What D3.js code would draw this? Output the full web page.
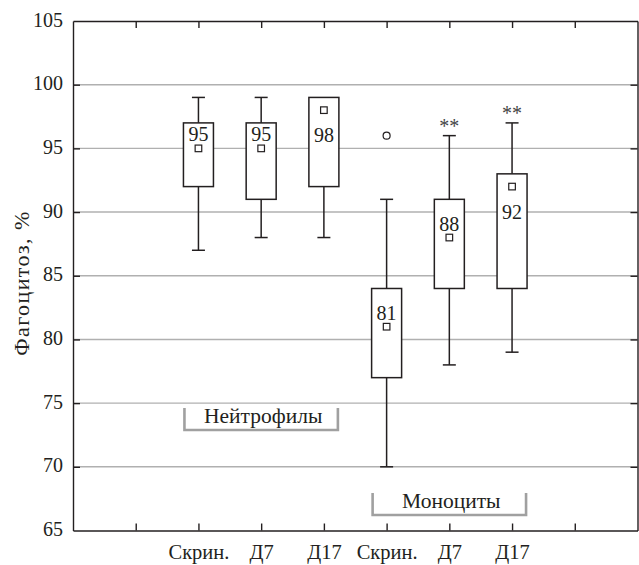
<!DOCTYPE html>
<html>
<head>
<meta charset="utf-8">
<script src="https://cdn.jsdelivr.net/npm/d3@7"></script>
<style>
  html, body { margin: 0; padding: 0; background: #fff; }
  svg { display: block; }
</style>
</head>
<body>
<div id="chart"></div>
<script>
// ---- data ----
const categories = ["Скрин.", "Д7", "Д17", "Скрин.", "Д7", "Д17"];
const groupNames = ["Нейтрофилы", "Моноциты"];
const groupMembers = [[0, 1, 2], [3, 4, 5]];
const mins  = [87, 88, 88, 70, 78, 79];
const q1s   = [92, 91, 92, 77, 84, 84];
const q3s   = [97, 97, 99, 84, 91, 93];
const maxs  = [99, 99, 99, 91, 96, 97];
const means = [95, 95, 98, 81, 88, 92];
const outliers = [[], [], [], [96], [], []];
const significance = ["", "", "", "", "**", "**"];
const meanLabelSide = ["above", "above", "below", "above", "above", "below"];
const yTicks = [65, 70, 75, 80, 85, 90, 95, 100, 105];
const gridValues = [70, 75, 80, 85, 90, 95, 100];
const xTickSlots = [1, 2, 3, 4, 5, 6, 7, 8];
const yTitle = "Фагоцитоз, %";

(function () {
const W = 639, H = 565;
const L = 73, R = 637.5, T = 21, B = 530.5;
const ink = "#231f20";
const FONT = '"Liberation Serif"';

const svg = d3.select("#chart").append("svg").attr("width", W).attr("height", H)
  .style("font-family", FONT);

const x = d3.scaleLinear().domain([0, 9]).range([L, R]);
const y = d3.scaleLinear().domain([65, 105]).range([B, T]);
const slot = i => i + 2;

const txt = (sel, size) => sel.style("font-family", FONT).style("font-size", size + "px").style("fill", ink);

svg.append("g").selectAll("line").data(gridValues).join("line")
  .attr("x1", L).attr("x2", R)
  .attr("y1", d => y(d)).attr("y2", d => y(d))
  .attr("stroke", "#b0b0b0").attr("stroke-width", 1.4);

const gLeft = svg.append("g").attr("transform", `translate(${L},0)`)
  .call(d3.axisLeft(y).tickValues(yTicks).tickSize(-7).tickSizeOuter(0).tickPadding(10).tickFormat(d3.format("d")));
const gRight = svg.append("g").attr("transform", `translate(${R},0)`)
  .call(d3.axisRight(y).tickValues(yTicks).tickSize(-7).tickSizeOuter(0).tickFormat(""));
const gTop = svg.append("g").attr("transform", `translate(0,${T})`)
  .call(d3.axisTop(x).tickValues(xTickSlots).tickSize(-7).tickSizeOuter(0).tickFormat(""));
const gBottom = svg.append("g").attr("transform", `translate(0,${B})`)
  .call(d3.axisBottom(x).tickValues(xTickSlots).tickSize(-7).tickSizeOuter(0).tickPadding(14)
    .tickFormat(d => (d >= 2 && d <= 7) ? categories[d - 2] : ""));

[gLeft, gRight, gTop, gBottom].forEach(g => {
  g.attr("font-family", null).attr("font-size", null);
  g.selectAll("path.domain").attr("stroke", ink).attr("stroke-width", 1.4);
  g.selectAll(".tick line").attr("stroke", ink).attr("stroke-width", 1.4);
});
txt(gLeft.selectAll("text"), 20).attr("dy", "0.25em");
txt(gBottom.selectAll("text"), 20.5);
gLeft.selectAll(".tick line").filter(d => d === 65 || d === 105).remove();
gRight.selectAll(".tick line").filter(d => d === 65 || d === 105).remove();

txt(svg.append("text")
  .attr("transform", `translate(28.5,${(T + B) / 2 + 8}) rotate(-90)`)
  .attr("text-anchor", "middle")
  .attr("textLength", 144).attr("lengthAdjust", "spacing")
  .text(yTitle), 22);

const boxW = 30, capW = 13;
const g = svg.append("g").attr("stroke", ink).attr("stroke-width", 1.5);
categories.forEach((c, i) => {
  const cx = x(slot(i));
  g.append("line").attr("x1", cx).attr("x2", cx).attr("y1", y(q3s[i])).attr("y2", y(maxs[i]));
  g.append("line").attr("x1", cx).attr("x2", cx).attr("y1", y(q1s[i])).attr("y2", y(mins[i]));
  if (maxs[i] > q3s[i]) {
    g.append("line").attr("x1", cx - capW / 2).attr("x2", cx + capW / 2).attr("y1", y(maxs[i])).attr("y2", y(maxs[i]));
  }
  g.append("line").attr("x1", cx - capW / 2).attr("x2", cx + capW / 2).attr("y1", y(mins[i])).attr("y2", y(mins[i]));
  g.append("rect").attr("x", cx - boxW / 2).attr("width", boxW)
    .attr("y", y(q3s[i])).attr("height", y(q1s[i]) - y(q3s[i]))
    .attr("fill", "#fff");
  g.append("rect").attr("x", cx - 3.3).attr("y", y(means[i]) - 3.3)
    .attr("width", 6.6).attr("height", 6.6).attr("fill", "#fff").attr("stroke-width", 1.2);
  outliers[i].forEach(o => {
    g.append("circle").attr("cx", cx).attr("cy", y(o)).attr("r", 3.5).attr("fill", "#fff").attr("stroke-width", 1.2);
  });
  const ly = meanLabelSide[i] === "above" ? y(means[i]) - 7 : y(means[i]) + 32;
  txt(svg.append("text").attr("x", cx).attr("y", ly).attr("text-anchor", "middle").text(means[i]), 20);
  if (significance[i]) {
    txt(svg.append("text").attr("x", cx).attr("y", y(maxs[i]) - 3).attr("text-anchor", "middle")
      .text(significance[i]), 20).style("fill", "#444");
  }
});

const bracketTop = [408, 493];
groupNames.forEach((name, gi) => {
  const mem = groupMembers[gi];
  const x0 = x(slot(mem[0])) - 14, x1 = x(slot(mem[mem.length - 1])) + 14;
  const yt = bracketTop[gi], yb = yt + 22;
  svg.append("path")
    .attr("d", `M${x0},${yt}V${yb}H${x1}V${yt}`)
    .attr("fill", "none").attr("stroke", "#a0a0a0").attr("stroke-width", 2.6);
  txt(svg.append("text").attr("x", (x0 + x1) / 2 + 2).attr("y", yb - 7)
    .attr("text-anchor", "middle").text(name), 21.5);
});
})();
</script>
</body>
</html>
